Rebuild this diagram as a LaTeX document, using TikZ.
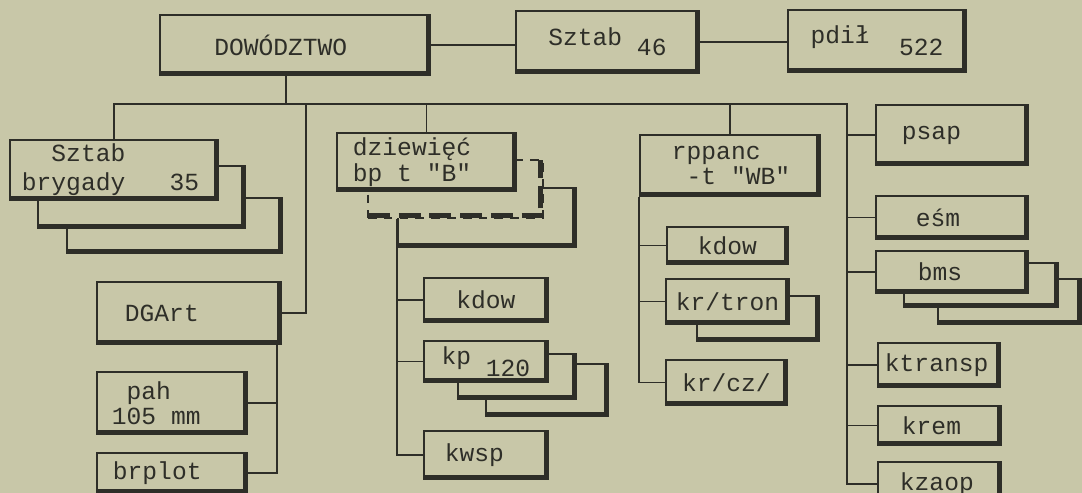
\documentclass[tikz,border=0pt]{standalone}
\usepackage{fontspec}
\setmainfont{Liberation Mono}[Ligatures=TeXOff, WordSpace={1,0,0}]
\usetikzlibrary{calc, positioning}

\newlength\unitpx
\setlength\unitpx{0.02cm}
\definecolor{paper}{RGB}{200,199,168}
\definecolor{ink}{RGB}{46,46,40}

\tikzset{
  box/.style 2 args={draw=ink, line width=1.1pt, fill=paper, anchor=north west,
    inner sep=0pt, minimum width=#1\unitpx, minimum height=#2\unitpx, text=ink,
    path picture={\draw[ink, line width=4.8pt]
      (path picture bounding box.south west) -- (path picture bounding box.south east)
      -- (path picture bounding box.north east);}},
  dashbox/.style 2 args={draw=ink, line width=1pt, fill=paper, anchor=north west,
    dash pattern=on 5pt off 4pt, inner sep=0pt,
    minimum width=#1\unitpx, minimum height=#2\unitpx,
    path picture={\draw[ink, line width=5.2pt, dash pattern=on 12.5pt off 5pt]
      (path picture bounding box.south west) -- (path picture bounding box.south east)
      -- (path picture bounding box.north east);}},
  link/.style={draw=ink, line width=0.9pt},
  lefttext/.style={text width=#1\unitpx, align=flush left,
    execute at begin node={\spaceskip=0pt\xspaceskip=0pt}}
}

\begin{document}
\begin{tikzpicture}[x=0.02cm, y=-0.02cm, font=\fontsize{14}{14.5}\selectfont]
    \useasboundingbox (0,0) rectangle (1082,493);
    \clip (0,0) rectangle (1082,493);
    \fill[paper] (0,0) rectangle (1082,493);

    % top row
    \node[box={270}{60}, lefttext=250] (dow) at (159,14) {\phantom{xxx}DOWÓDZTWO};
    \node[box={183}{62}] (sztab) at (515,10) {Sztab \raisebox{-0.8ex}{46}};
    \node[box={178}{62}] (pdil) at (787,9) {pdił\ \ \raisebox{-0.9ex}{522}};

    % sztab brygady (stack)
    \node[box={215}{55}] (brygC) at (66,197) {};
    \node[box={207}{62}] (brygB) at (37,165) {};
    \node[box={208}{60}, lefttext=184, font=\fontsize{14}{16.5}\selectfont] (brygA) at (9,139)
        {\phantom{xx}Sztab\\brygady\ \ \ 35};

    % artyleria
    \node[box={184}{62}, lefttext=128] (dgart) at (96,281) {DGArt\\[-3pt]};
    \node[box={150}{62}, lefttext=120] (pah) at (96,371) {\phantom{x}pah\\105 mm};
    \node[box={150}{40}, lefttext=118] (brplot) at (96,452) {brplot};

    % bataliony
    \node[box={178}{59}] (dzC) at (397,187) {};
    \node[dashbox={175}{58}] (dzB) at (367,159) {};
    \node[box={179}{58}, lefttext=147] (dzA) at (336,132) {dziewięć\\bp t "B"};
    \node[box={124}{44}] (kdowA) at (423,277) {kdow};
    \node[box={122}{52}] (kpC) at (485,363) {};
    \node[box={118}{45}] (kpB) at (457,353) {};
    \node[box={124}{41}] (kpA) at (423,340) {kp \raisebox{-0.9ex}{120}};
    \node[box={124}{48}, lefttext=82] (kwsp) at (423,430) {kwsp};

    % rppanc
    \node[box={180}{61}, lefttext=116] (rpA) at (639,134) {rppanc\\\mbox{\phantom{x}-t "WB"}};
    \node[box={121}{37}] (kdowB) at (666,226) {kdow};
    \node[box={122}{45}] (krtB) at (696,295) {};
    \node[box={123}{45}] (krtA) at (665,278) {kr/tron};
    \node[box={121}{45}] (krcz) at (665,359) {kr/cz/};

    % prawa kolumna
    \node[box={152}{60}, lefttext=100] (psap) at (875,104) {psap};
    \node[box={152}{43}, lefttext=72] (esm) at (875,195) {eśm};
    \node[box={143}{45}] (bmsC) at (937,278) {};
    \node[box={154}{44}] (bmsB) at (903,262) {};
    \node[box={152}{42}, lefttext=68] (bmsA) at (875,250) {bms};
    \node[box={122}{44}, lefttext=108] (ktransp) at (877,342) {ktransp};
    \node[box={123}{39}, lefttext=75] (krem) at (877,405) {krem};
    \node[box={123}{44}, lefttext=79] (kzaop) at (877,461) {kzaop};

    % linie
    \coordinate (busy) at (0,104);
    \coordinate (busR) at (847,104);
    \coordinate (artbus) at (306,104);
    \draw[link] (dow.east) -- (dow.east -| sztab.west);
    \draw[link] (sztab.east) -- (sztab.east -| pdil.west);
    \draw[link] ([xshift=-9\unitpx]dow.south) -- ([xshift=-9\unitpx]dow.south |- busy);
    \draw[link] (brygA.north) -- (brygA.north |- busy) -- (busR) -- (busR |- kzaop.west) -- (kzaop.west);
    \draw[link] (dzA.north) -- (dzA.north |- busy);
    \draw[link] (rpA.north) -- (rpA.north |- busy);
    \foreach \n in {psap, esm, bmsA, ktransp, krem}
        \draw[link] (\n.west) -- (\n.west -| busR);
    \draw[link] (dgart.east) -| (artbus);
    \coordinate (artdown) at ([xshift=-5\unitpx]dgart.south east);
    \draw[link] (artdown) |- (brplot.east);
    \draw[link] (pah.east) -- (pah.east -| artdown);
    \draw[link] (dzC.west |- dzB.south) |- (kwsp.west);
    \foreach \n in {kdowA, kpA}
        \draw[link] (\n.west) -- (\n.west -| dzC.west);
    \draw[link] (rpA.south west) |- (krcz.west);
    \foreach \n in {kdowB, krtA}
        \draw[link] (\n.west) -- (\n.west -| rpA.west);
\end{tikzpicture}
\end{document}
